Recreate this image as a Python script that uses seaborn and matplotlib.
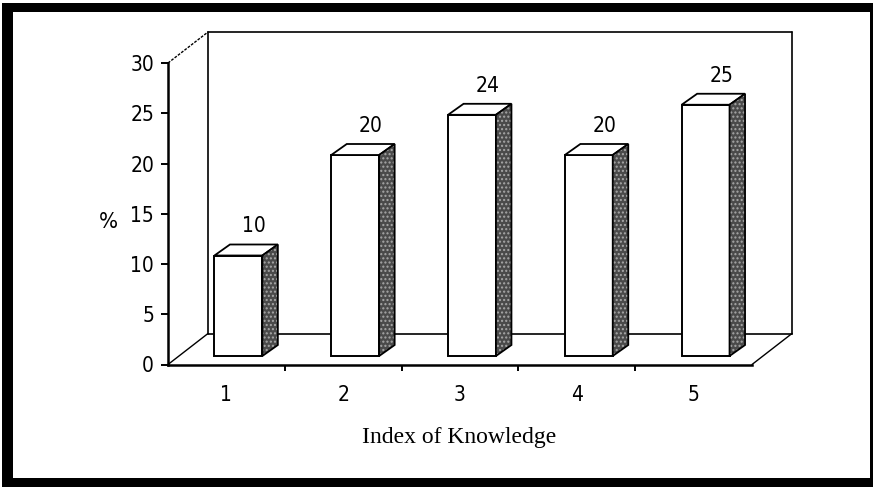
import numpy as np
import pandas as pd
import matplotlib
matplotlib.use("Agg")
import matplotlib.pyplot as plt
import seaborn as sns
from matplotlib import font_manager
from matplotlib.font_manager import FontProperties
from matplotlib.transforms import ScaledTranslation
from matplotlib.patches import Polygon, Rectangle

# ---- data ----
categories = ["1", "2", "3", "4", "5"]
values = [10, 20, 24, 20, 25]
yticks = [0, 5, 10, 15, 20, 25, 30]
ylabel = "%"
xlabel = "Index of Knowledge"

# pick a condensed / narrow sans font if one is installed
def find_narrow():
    best = None
    for f in font_manager.fontManager.ttflist:
        fn = f.fname.lower()
        if any(k in fn for k in ("bold", "italic", "oblique", "light", "thin", "black", "medium", "semi")):
            continue
        if ("narrow" in fn or "condensed" in fn or "cond" in fn) and "serif" not in fn and "mono" not in fn:
            rank = 0 if "liberation" in fn else (1 if "dejavu" in fn else 2)
            if best is None or rank < best[0]:
                best = (rank, f.fname)
    return best[1] if best else None

narrow_file = find_narrow()
names = {f.name for f in font_manager.fontManager.ttflist}
serif = "Liberation Serif" if "Liberation Serif" in names else "DejaVu Serif"

sns.set_theme(style="white")
plt.rcParams["font.family"] = ["DejaVu Sans"]
plt.rcParams["hatch.linewidth"] = 1.0

if narrow_file:
    def nfp(size):
        return FontProperties(fname=narrow_file, size=size)
else:
    def nfp(size):
        return FontProperties(family=["Liberation Sans", "DejaVu Sans"], size=size - 1)

W, H, DPI = 873, 487, 100
fig = plt.figure(figsize=(W / DPI, H / DPI), dpi=DPI)
fig.patch.set_facecolor("white")

x0_px, x1_px, y0_px, y30_px = 168, 752, 364.5, 63
ax = fig.add_axes([x0_px / W, 1 - y0_px / H, (x1_px - x0_px) / W, (y0_px - y30_px) / H])
ax.set_facecolor("none")

df = pd.DataFrame({"k": categories, "v": values})
sns.barplot(data=df, x="k", y="v", ax=ax, color="white", edgecolor="black",
            linewidth=1.4, width=0.41, saturation=1, zorder=5)
ax.set_xlim(-0.5, 4.5)
ax.set_ylim(0, 30)

px_per_cat = (x1_px - x0_px) / 5.0
px_per_unit = (y0_px - y30_px) / 30.0

def off(dx, dy):
    return ax.transData + ScaledTranslation(dx / DPI, dy / DPI, fig.dpi_scale_trans)

bar_off = off(12, 8.5)
ddx = 15.5 / px_per_cat
ddy = 11 / px_per_unit

for p, v in zip(ax.patches, values):
    p.set_transform(bar_off)
    p.set_clip_on(False)
    bx0 = p.get_x()
    bx1 = bx0 + p.get_width()
    h = p.get_height()
    top = [(bx0, h), (bx1, h), (bx1 + ddx, h + ddy), (bx0 + ddx, h + ddy)]
    side = [(bx1, 0), (bx1, h), (bx1 + ddx, h + ddy), (bx1 + ddx, ddy)]
    ax.add_patch(Polygon(top, closed=True, facecolor="white", edgecolor="black",
                         linewidth=1.3, transform=bar_off, zorder=5, clip_on=False))
    ax.add_patch(Polygon(side, closed=True, facecolor="#4a4a4a", edgecolor="none",
                         transform=bar_off, zorder=5, clip_on=False))
    ax.add_patch(Polygon(side, closed=True, facecolor="none", edgecolor="#a8a8a8",
                         hatch="....", linewidth=0, transform=bar_off, zorder=5, clip_on=False))
    ax.add_patch(Polygon(side, closed=True, facecolor="none", edgecolor="black",
                         linewidth=1.3, transform=bar_off, zorder=6, clip_on=False))
    ax.text(bx0 + p.get_width() / 2 + ddx, h + ddy, f"{v}", transform=off(12, 8.5 + 18),
            ha="center", va="center", fontproperties=nfp(15), color="black", zorder=7)

# back wall & floor (depth offset)
wall = off(40, 31)
lk = dict(color="black", linewidth=1.2, clip_on=False, zorder=2)
ax.plot([-0.5, -0.5], [0, 30], transform=wall, **lk)
ax.plot([-0.5, 4.5], [30, 30], transform=wall, **lk)
ax.plot([4.5, 4.5], [0, 30], transform=wall, **lk)
ax.plot([-0.5, 4.5], [0, 0], transform=wall, **lk)
for (xa, ya) in [(-0.5, 30), (-0.5, 0), (4.5, 0)]:
    pa = ax.transData.transform((xa, ya))
    pb = pa + np.array([40, 31])
    fig.add_artist(plt.Line2D([pa[0] / W, pb[0] / W], [pa[1] / H, pb[1] / H],
                              transform=fig.transFigure, color="black", linewidth=1.0,
                              linestyle=(0, (2, 1)) if ya == 30 else "-"))

for s in ["top", "right"]:
    ax.spines[s].set_visible(False)
for s in ["left", "bottom"]:
    ax.spines[s].set_visible(True)
    ax.spines[s].set_color("black")
    ax.spines[s].set_linewidth(1.8)
    ax.spines[s].set_zorder(8)

ax.set_yticks(yticks)
ax.set_yticklabels([str(t) for t in yticks])
ax.tick_params(axis="y", which="major", left=True, direction="out", length=5, width=1.4,
               color="black", pad=5, labelcolor="black")
ax.set_xticks(range(len(categories)))
ax.set_xticklabels(categories)
ax.tick_params(axis="x", which="major", bottom=False, length=0, pad=15, labelcolor="black")
ax.set_xticks([0.5, 1.5, 2.5, 3.5], minor=True)
ax.tick_params(axis="x", which="minor", bottom=True, direction="out", length=4, width=1.4,
               color="black")
for lab in ax.get_yticklabels() + ax.get_xticklabels():
    lab.set_fontproperties(nfp(15))
ax.set_xlabel("")
ax.set_ylabel("")
ax.grid(False)

fig.text(108 / W, 1 - 222 / H, ylabel, ha="center", va="center", fontproperties=nfp(16),
         color="black")
fig.text(459 / W, 1 - 437 / H, xlabel, ha="center", va="center", fontsize=17,
         family=[serif, "DejaVu Serif"], color="black")

def frame(x, y, w, h):
    fig.add_artist(Rectangle((x / W, 1 - (y + h) / H), w / W, h / H,
                             transform=fig.transFigure, facecolor="black",
                             edgecolor="none", zorder=10))
frame(2, 3, 11, 478)
frame(2, 3, 871, 9)
frame(2, 478, 871, 9)
frame(870, 3, 3, 484)

fig.savefig("out.png", dpi=DPI, facecolor="white")
